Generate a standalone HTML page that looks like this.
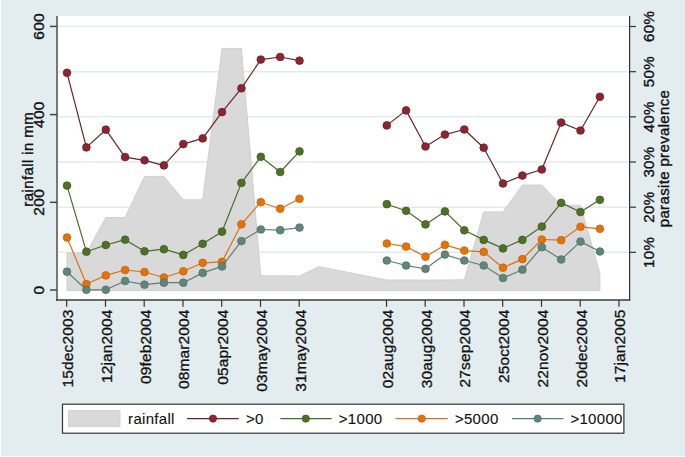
<!DOCTYPE html>
<html><head><meta charset="utf-8"><style>
html,body{margin:0;padding:0;background:#e3ecee;}
svg{display:block;}
text{font-family:"Liberation Sans",sans-serif;}
</style></head><body>
<svg width="685" height="457" viewBox="0 0 685 457">
<rect x="0" y="0" width="685" height="457" fill="#e3ecee"/>
<rect x="0" y="0" width="1" height="457" fill="#f6fbfb"/>
<rect x="0" y="456" width="685" height="1" fill="#f4f9f9"/>
<rect x="57" y="16" width="572" height="284" fill="#fff"/>
<line x1="58" y1="26.5" x2="628.5" y2="26.5" stroke="#e3ebed" stroke-width="1.5"/>
<line x1="58" y1="71.67" x2="628.5" y2="71.67" stroke="#e3ebed" stroke-width="1.5"/>
<line x1="58" y1="116.84" x2="628.5" y2="116.84" stroke="#e3ebed" stroke-width="1.5"/>
<line x1="58" y1="162.01" x2="628.5" y2="162.01" stroke="#e3ebed" stroke-width="1.5"/>
<line x1="58" y1="207.18" x2="628.5" y2="207.18" stroke="#e3ebed" stroke-width="1.5"/>
<line x1="58" y1="252.35000000000002" x2="628.5" y2="252.35000000000002" stroke="#e3ebed" stroke-width="1.5"/>
<polygon points="67.0,290.5 67.0,253.0 86.4,253.0 105.8,217.5 125.1,217.5 144.5,176.4 163.9,176.4 183.3,199.8 202.7,199.8 222.0,48.4 241.4,48.4 260.8,275.8 280.2,275.8 299.5,276.0 318.9,266.6 386.8,280.0 406.1,280.0 425.5,280.0 444.9,280.0 464.3,279.7 483.7,211.9 503.0,211.9 522.4,185.0 541.8,185.0 561.2,205.2 580.5,205.2 599.9,273.2 599.9,290.5" fill="#d9d9d9" stroke="#cdcdcd" stroke-width="0.9" stroke-linejoin="round"/>
<polyline points="67.0,72.8 86.4,147.4 105.8,129.7 125.1,157.1 144.5,160.3 163.9,165.4 183.3,144.1 202.7,138.4 222.0,112.1 241.4,88.3 260.8,59.6 280.2,57.0 299.5,60.7" fill="none" stroke="#6c232c" stroke-width="1.2" stroke-linejoin="round"/><circle cx="67.0" cy="72.8" r="3.85" fill="#8a2531" stroke="#6e1f28" stroke-width="0.8"/><circle cx="86.4" cy="147.4" r="3.85" fill="#8a2531" stroke="#6e1f28" stroke-width="0.8"/><circle cx="105.8" cy="129.7" r="3.85" fill="#8a2531" stroke="#6e1f28" stroke-width="0.8"/><circle cx="125.1" cy="157.1" r="3.85" fill="#8a2531" stroke="#6e1f28" stroke-width="0.8"/><circle cx="144.5" cy="160.3" r="3.85" fill="#8a2531" stroke="#6e1f28" stroke-width="0.8"/><circle cx="163.9" cy="165.4" r="3.85" fill="#8a2531" stroke="#6e1f28" stroke-width="0.8"/><circle cx="183.3" cy="144.1" r="3.85" fill="#8a2531" stroke="#6e1f28" stroke-width="0.8"/><circle cx="202.7" cy="138.4" r="3.85" fill="#8a2531" stroke="#6e1f28" stroke-width="0.8"/><circle cx="222.0" cy="112.1" r="3.85" fill="#8a2531" stroke="#6e1f28" stroke-width="0.8"/><circle cx="241.4" cy="88.3" r="3.85" fill="#8a2531" stroke="#6e1f28" stroke-width="0.8"/><circle cx="260.8" cy="59.6" r="3.85" fill="#8a2531" stroke="#6e1f28" stroke-width="0.8"/><circle cx="280.2" cy="57.0" r="3.85" fill="#8a2531" stroke="#6e1f28" stroke-width="0.8"/><circle cx="299.5" cy="60.7" r="3.85" fill="#8a2531" stroke="#6e1f28" stroke-width="0.8"/>
<polyline points="386.8,125.4 406.1,110.4 425.5,146.5 444.9,134.6 464.3,129.5 483.7,147.7 503.0,183.5 522.4,175.6 541.8,169.5 561.2,122.6 580.5,130.5 599.9,96.8" fill="none" stroke="#6c232c" stroke-width="1.2" stroke-linejoin="round"/><circle cx="386.8" cy="125.4" r="3.85" fill="#8a2531" stroke="#6e1f28" stroke-width="0.8"/><circle cx="406.1" cy="110.4" r="3.85" fill="#8a2531" stroke="#6e1f28" stroke-width="0.8"/><circle cx="425.5" cy="146.5" r="3.85" fill="#8a2531" stroke="#6e1f28" stroke-width="0.8"/><circle cx="444.9" cy="134.6" r="3.85" fill="#8a2531" stroke="#6e1f28" stroke-width="0.8"/><circle cx="464.3" cy="129.5" r="3.85" fill="#8a2531" stroke="#6e1f28" stroke-width="0.8"/><circle cx="483.7" cy="147.7" r="3.85" fill="#8a2531" stroke="#6e1f28" stroke-width="0.8"/><circle cx="503.0" cy="183.5" r="3.85" fill="#8a2531" stroke="#6e1f28" stroke-width="0.8"/><circle cx="522.4" cy="175.6" r="3.85" fill="#8a2531" stroke="#6e1f28" stroke-width="0.8"/><circle cx="541.8" cy="169.5" r="3.85" fill="#8a2531" stroke="#6e1f28" stroke-width="0.8"/><circle cx="561.2" cy="122.6" r="3.85" fill="#8a2531" stroke="#6e1f28" stroke-width="0.8"/><circle cx="580.5" cy="130.5" r="3.85" fill="#8a2531" stroke="#6e1f28" stroke-width="0.8"/><circle cx="599.9" cy="96.8" r="3.85" fill="#8a2531" stroke="#6e1f28" stroke-width="0.8"/>
<polyline points="67.0,185.6 86.4,251.7 105.8,245.0 125.1,239.7 144.5,251.3 163.9,249.2 183.3,254.9 202.7,243.8 222.0,231.7 241.4,182.9 260.8,156.8 280.2,172.0 299.5,151.4" fill="none" stroke="#4a6a2a" stroke-width="1.2" stroke-linejoin="round"/><circle cx="67.0" cy="185.6" r="3.85" fill="#4e7027" stroke="#3f5d1e" stroke-width="0.8"/><circle cx="86.4" cy="251.7" r="3.85" fill="#4e7027" stroke="#3f5d1e" stroke-width="0.8"/><circle cx="105.8" cy="245.0" r="3.85" fill="#4e7027" stroke="#3f5d1e" stroke-width="0.8"/><circle cx="125.1" cy="239.7" r="3.85" fill="#4e7027" stroke="#3f5d1e" stroke-width="0.8"/><circle cx="144.5" cy="251.3" r="3.85" fill="#4e7027" stroke="#3f5d1e" stroke-width="0.8"/><circle cx="163.9" cy="249.2" r="3.85" fill="#4e7027" stroke="#3f5d1e" stroke-width="0.8"/><circle cx="183.3" cy="254.9" r="3.85" fill="#4e7027" stroke="#3f5d1e" stroke-width="0.8"/><circle cx="202.7" cy="243.8" r="3.85" fill="#4e7027" stroke="#3f5d1e" stroke-width="0.8"/><circle cx="222.0" cy="231.7" r="3.85" fill="#4e7027" stroke="#3f5d1e" stroke-width="0.8"/><circle cx="241.4" cy="182.9" r="3.85" fill="#4e7027" stroke="#3f5d1e" stroke-width="0.8"/><circle cx="260.8" cy="156.8" r="3.85" fill="#4e7027" stroke="#3f5d1e" stroke-width="0.8"/><circle cx="280.2" cy="172.0" r="3.85" fill="#4e7027" stroke="#3f5d1e" stroke-width="0.8"/><circle cx="299.5" cy="151.4" r="3.85" fill="#4e7027" stroke="#3f5d1e" stroke-width="0.8"/>
<polyline points="386.8,204.2 406.1,210.8 425.5,224.4 444.9,211.4 464.3,230.3 483.7,239.9 503.0,248.4 522.4,239.9 541.8,226.6 561.2,202.9 580.5,212.0 599.9,199.8" fill="none" stroke="#4a6a2a" stroke-width="1.2" stroke-linejoin="round"/><circle cx="386.8" cy="204.2" r="3.85" fill="#4e7027" stroke="#3f5d1e" stroke-width="0.8"/><circle cx="406.1" cy="210.8" r="3.85" fill="#4e7027" stroke="#3f5d1e" stroke-width="0.8"/><circle cx="425.5" cy="224.4" r="3.85" fill="#4e7027" stroke="#3f5d1e" stroke-width="0.8"/><circle cx="444.9" cy="211.4" r="3.85" fill="#4e7027" stroke="#3f5d1e" stroke-width="0.8"/><circle cx="464.3" cy="230.3" r="3.85" fill="#4e7027" stroke="#3f5d1e" stroke-width="0.8"/><circle cx="483.7" cy="239.9" r="3.85" fill="#4e7027" stroke="#3f5d1e" stroke-width="0.8"/><circle cx="503.0" cy="248.4" r="3.85" fill="#4e7027" stroke="#3f5d1e" stroke-width="0.8"/><circle cx="522.4" cy="239.9" r="3.85" fill="#4e7027" stroke="#3f5d1e" stroke-width="0.8"/><circle cx="541.8" cy="226.6" r="3.85" fill="#4e7027" stroke="#3f5d1e" stroke-width="0.8"/><circle cx="561.2" cy="202.9" r="3.85" fill="#4e7027" stroke="#3f5d1e" stroke-width="0.8"/><circle cx="580.5" cy="212.0" r="3.85" fill="#4e7027" stroke="#3f5d1e" stroke-width="0.8"/><circle cx="599.9" cy="199.8" r="3.85" fill="#4e7027" stroke="#3f5d1e" stroke-width="0.8"/>
<polyline points="67.0,237.5 86.4,284.0 105.8,275.4 125.1,270.0 144.5,272.0 163.9,277.5 183.3,271.3 202.7,262.8 222.0,261.8 241.4,224.3 260.8,202.2 280.2,208.7 299.5,198.8" fill="none" stroke="#d2741c" stroke-width="1.2" stroke-linejoin="round"/><circle cx="67.0" cy="237.5" r="3.85" fill="#e2730a" stroke="#c66300" stroke-width="0.8"/><circle cx="86.4" cy="284.0" r="3.85" fill="#e2730a" stroke="#c66300" stroke-width="0.8"/><circle cx="105.8" cy="275.4" r="3.85" fill="#e2730a" stroke="#c66300" stroke-width="0.8"/><circle cx="125.1" cy="270.0" r="3.85" fill="#e2730a" stroke="#c66300" stroke-width="0.8"/><circle cx="144.5" cy="272.0" r="3.85" fill="#e2730a" stroke="#c66300" stroke-width="0.8"/><circle cx="163.9" cy="277.5" r="3.85" fill="#e2730a" stroke="#c66300" stroke-width="0.8"/><circle cx="183.3" cy="271.3" r="3.85" fill="#e2730a" stroke="#c66300" stroke-width="0.8"/><circle cx="202.7" cy="262.8" r="3.85" fill="#e2730a" stroke="#c66300" stroke-width="0.8"/><circle cx="222.0" cy="261.8" r="3.85" fill="#e2730a" stroke="#c66300" stroke-width="0.8"/><circle cx="241.4" cy="224.3" r="3.85" fill="#e2730a" stroke="#c66300" stroke-width="0.8"/><circle cx="260.8" cy="202.2" r="3.85" fill="#e2730a" stroke="#c66300" stroke-width="0.8"/><circle cx="280.2" cy="208.7" r="3.85" fill="#e2730a" stroke="#c66300" stroke-width="0.8"/><circle cx="299.5" cy="198.8" r="3.85" fill="#e2730a" stroke="#c66300" stroke-width="0.8"/>
<polyline points="386.8,243.5 406.1,246.6 425.5,256.7 444.9,244.9 464.3,250.6 483.7,251.9 503.0,267.7 522.4,259.1 541.8,239.5 561.2,240.2 580.5,226.8 599.9,228.8" fill="none" stroke="#d2741c" stroke-width="1.2" stroke-linejoin="round"/><circle cx="386.8" cy="243.5" r="3.85" fill="#e2730a" stroke="#c66300" stroke-width="0.8"/><circle cx="406.1" cy="246.6" r="3.85" fill="#e2730a" stroke="#c66300" stroke-width="0.8"/><circle cx="425.5" cy="256.7" r="3.85" fill="#e2730a" stroke="#c66300" stroke-width="0.8"/><circle cx="444.9" cy="244.9" r="3.85" fill="#e2730a" stroke="#c66300" stroke-width="0.8"/><circle cx="464.3" cy="250.6" r="3.85" fill="#e2730a" stroke="#c66300" stroke-width="0.8"/><circle cx="483.7" cy="251.9" r="3.85" fill="#e2730a" stroke="#c66300" stroke-width="0.8"/><circle cx="503.0" cy="267.7" r="3.85" fill="#e2730a" stroke="#c66300" stroke-width="0.8"/><circle cx="522.4" cy="259.1" r="3.85" fill="#e2730a" stroke="#c66300" stroke-width="0.8"/><circle cx="541.8" cy="239.5" r="3.85" fill="#e2730a" stroke="#c66300" stroke-width="0.8"/><circle cx="561.2" cy="240.2" r="3.85" fill="#e2730a" stroke="#c66300" stroke-width="0.8"/><circle cx="580.5" cy="226.8" r="3.85" fill="#e2730a" stroke="#c66300" stroke-width="0.8"/><circle cx="599.9" cy="228.8" r="3.85" fill="#e2730a" stroke="#c66300" stroke-width="0.8"/>
<polyline points="67.0,271.7 86.4,289.8 105.8,289.8 125.1,281.0 144.5,284.7 163.9,282.7 183.3,282.7 202.7,272.9 222.0,266.4 241.4,241.1 260.8,229.5 280.2,230.2 299.5,227.6" fill="none" stroke="#5f7f75" stroke-width="1.2" stroke-linejoin="round"/><circle cx="67.0" cy="271.7" r="3.85" fill="#628579" stroke="#4f7267" stroke-width="0.8"/><circle cx="86.4" cy="289.8" r="3.85" fill="#628579" stroke="#4f7267" stroke-width="0.8"/><circle cx="105.8" cy="289.8" r="3.85" fill="#628579" stroke="#4f7267" stroke-width="0.8"/><circle cx="125.1" cy="281.0" r="3.85" fill="#628579" stroke="#4f7267" stroke-width="0.8"/><circle cx="144.5" cy="284.7" r="3.85" fill="#628579" stroke="#4f7267" stroke-width="0.8"/><circle cx="163.9" cy="282.7" r="3.85" fill="#628579" stroke="#4f7267" stroke-width="0.8"/><circle cx="183.3" cy="282.7" r="3.85" fill="#628579" stroke="#4f7267" stroke-width="0.8"/><circle cx="202.7" cy="272.9" r="3.85" fill="#628579" stroke="#4f7267" stroke-width="0.8"/><circle cx="222.0" cy="266.4" r="3.85" fill="#628579" stroke="#4f7267" stroke-width="0.8"/><circle cx="241.4" cy="241.1" r="3.85" fill="#628579" stroke="#4f7267" stroke-width="0.8"/><circle cx="260.8" cy="229.5" r="3.85" fill="#628579" stroke="#4f7267" stroke-width="0.8"/><circle cx="280.2" cy="230.2" r="3.85" fill="#628579" stroke="#4f7267" stroke-width="0.8"/><circle cx="299.5" cy="227.6" r="3.85" fill="#628579" stroke="#4f7267" stroke-width="0.8"/>
<polyline points="386.8,260.5 406.1,265.5 425.5,268.8 444.9,254.6 464.3,260.5 483.7,265.5 503.0,278.0 522.4,269.7 541.8,247.2 561.2,259.5 580.5,241.6 599.9,251.5" fill="none" stroke="#5f7f75" stroke-width="1.2" stroke-linejoin="round"/><circle cx="386.8" cy="260.5" r="3.85" fill="#628579" stroke="#4f7267" stroke-width="0.8"/><circle cx="406.1" cy="265.5" r="3.85" fill="#628579" stroke="#4f7267" stroke-width="0.8"/><circle cx="425.5" cy="268.8" r="3.85" fill="#628579" stroke="#4f7267" stroke-width="0.8"/><circle cx="444.9" cy="254.6" r="3.85" fill="#628579" stroke="#4f7267" stroke-width="0.8"/><circle cx="464.3" cy="260.5" r="3.85" fill="#628579" stroke="#4f7267" stroke-width="0.8"/><circle cx="483.7" cy="265.5" r="3.85" fill="#628579" stroke="#4f7267" stroke-width="0.8"/><circle cx="503.0" cy="278.0" r="3.85" fill="#628579" stroke="#4f7267" stroke-width="0.8"/><circle cx="522.4" cy="269.7" r="3.85" fill="#628579" stroke="#4f7267" stroke-width="0.8"/><circle cx="541.8" cy="247.2" r="3.85" fill="#628579" stroke="#4f7267" stroke-width="0.8"/><circle cx="561.2" cy="259.5" r="3.85" fill="#628579" stroke="#4f7267" stroke-width="0.8"/><circle cx="580.5" cy="241.6" r="3.85" fill="#628579" stroke="#4f7267" stroke-width="0.8"/><circle cx="599.9" cy="251.5" r="3.85" fill="#628579" stroke="#4f7267" stroke-width="0.8"/>
<line x1="57" y1="16" x2="57" y2="300.8" stroke="#6a6a6a" stroke-width="1.8"/>
<line x1="56" y1="300" x2="630.2" y2="300" stroke="#3c3c3c" stroke-width="1.4"/>
<line x1="629.6" y1="16" x2="629.6" y2="300.7" stroke="#333" stroke-width="1.2"/>
<line x1="50" y1="290.0" x2="57" y2="290.0" stroke="#444" stroke-width="1.5"/>
<text transform="translate(44.2,290.0) rotate(-90)" text-anchor="middle" font-family="Liberation Sans, sans-serif" font-size="15.5" letter-spacing="0.3" fill="#111" stroke="#111" stroke-width="0.35">0</text>
<line x1="50" y1="202.3" x2="57" y2="202.3" stroke="#444" stroke-width="1.5"/>
<text transform="translate(44.2,202.3) rotate(-90)" text-anchor="middle" font-family="Liberation Sans, sans-serif" font-size="15.5" letter-spacing="0.3" fill="#111" stroke="#111" stroke-width="0.35">200</text>
<line x1="50" y1="114.6" x2="57" y2="114.6" stroke="#444" stroke-width="1.5"/>
<text transform="translate(44.2,114.6) rotate(-90)" text-anchor="middle" font-family="Liberation Sans, sans-serif" font-size="15.5" letter-spacing="0.3" fill="#111" stroke="#111" stroke-width="0.35">400</text>
<line x1="50" y1="26.4" x2="57" y2="26.4" stroke="#444" stroke-width="1.5"/>
<text transform="translate(44.2,26.4) rotate(-90)" text-anchor="middle" font-family="Liberation Sans, sans-serif" font-size="15.5" letter-spacing="0.3" fill="#111" stroke="#111" stroke-width="0.35">600</text>
<line x1="629.6" y1="252.35" x2="636" y2="252.35" stroke="#333" stroke-width="1.2"/>
<text transform="translate(653.8,252.35000000000002) rotate(-90)" text-anchor="middle" font-family="Liberation Sans, sans-serif" font-size="15" letter-spacing="0.4" fill="#111" stroke="#111" stroke-width="0.35">10%</text>
<line x1="629.6" y1="207.18" x2="636" y2="207.18" stroke="#333" stroke-width="1.2"/>
<text transform="translate(653.8,207.18) rotate(-90)" text-anchor="middle" font-family="Liberation Sans, sans-serif" font-size="15" letter-spacing="0.4" fill="#111" stroke="#111" stroke-width="0.35">20%</text>
<line x1="629.6" y1="162.01" x2="636" y2="162.01" stroke="#333" stroke-width="1.2"/>
<text transform="translate(653.8,162.01) rotate(-90)" text-anchor="middle" font-family="Liberation Sans, sans-serif" font-size="15" letter-spacing="0.4" fill="#111" stroke="#111" stroke-width="0.35">30%</text>
<line x1="629.6" y1="116.84" x2="636" y2="116.84" stroke="#333" stroke-width="1.2"/>
<text transform="translate(653.8,116.84) rotate(-90)" text-anchor="middle" font-family="Liberation Sans, sans-serif" font-size="15" letter-spacing="0.4" fill="#111" stroke="#111" stroke-width="0.35">40%</text>
<line x1="629.6" y1="71.67" x2="636" y2="71.67" stroke="#333" stroke-width="1.2"/>
<text transform="translate(653.8,71.67) rotate(-90)" text-anchor="middle" font-family="Liberation Sans, sans-serif" font-size="15" letter-spacing="0.4" fill="#111" stroke="#111" stroke-width="0.35">50%</text>
<line x1="629.6" y1="26.50" x2="636" y2="26.50" stroke="#333" stroke-width="1.2"/>
<text transform="translate(653.8,26.5) rotate(-90)" text-anchor="middle" font-family="Liberation Sans, sans-serif" font-size="15" letter-spacing="0.4" fill="#111" stroke="#111" stroke-width="0.35">60%</text>
<line x1="66.7" y1="300" x2="66.7" y2="306.8" stroke="#333" stroke-width="1.2"/>
<text transform="translate(73.0,309.6) rotate(-90)" text-anchor="end" font-family="Liberation Sans, sans-serif" font-size="15.5" letter-spacing="0.12" fill="#111" stroke="#111" stroke-width="0.3">15dec2003</text>
<line x1="105.5" y1="300" x2="105.5" y2="306.8" stroke="#333" stroke-width="1.2"/>
<text transform="translate(111.8,309.6) rotate(-90)" text-anchor="end" font-family="Liberation Sans, sans-serif" font-size="15.5" letter-spacing="0.12" fill="#111" stroke="#111" stroke-width="0.3">12jan2004</text>
<line x1="144.2" y1="300" x2="144.2" y2="306.8" stroke="#333" stroke-width="1.2"/>
<text transform="translate(150.5,309.6) rotate(-90)" text-anchor="end" font-family="Liberation Sans, sans-serif" font-size="15.5" letter-spacing="0.12" fill="#111" stroke="#111" stroke-width="0.3">09feb2004</text>
<line x1="183.0" y1="300" x2="183.0" y2="306.8" stroke="#333" stroke-width="1.2"/>
<text transform="translate(189.3,309.6) rotate(-90)" text-anchor="end" font-family="Liberation Sans, sans-serif" font-size="15.5" letter-spacing="0.12" fill="#111" stroke="#111" stroke-width="0.3">08mar2004</text>
<line x1="221.7" y1="300" x2="221.7" y2="306.8" stroke="#333" stroke-width="1.2"/>
<text transform="translate(228.0,309.6) rotate(-90)" text-anchor="end" font-family="Liberation Sans, sans-serif" font-size="15.5" letter-spacing="0.12" fill="#111" stroke="#111" stroke-width="0.3">05apr2004</text>
<line x1="260.5" y1="300" x2="260.5" y2="306.8" stroke="#333" stroke-width="1.2"/>
<text transform="translate(266.8,309.6) rotate(-90)" text-anchor="end" font-family="Liberation Sans, sans-serif" font-size="15.5" letter-spacing="0.12" fill="#111" stroke="#111" stroke-width="0.3">03may2004</text>
<line x1="299.2" y1="300" x2="299.2" y2="306.8" stroke="#333" stroke-width="1.2"/>
<text transform="translate(305.5,309.6) rotate(-90)" text-anchor="end" font-family="Liberation Sans, sans-serif" font-size="15.5" letter-spacing="0.12" fill="#111" stroke="#111" stroke-width="0.3">31may2004</text>
<line x1="386.5" y1="300" x2="386.5" y2="306.8" stroke="#333" stroke-width="1.2"/>
<text transform="translate(392.8,309.6) rotate(-90)" text-anchor="end" font-family="Liberation Sans, sans-serif" font-size="15.5" letter-spacing="0.12" fill="#111" stroke="#111" stroke-width="0.3">02aug2004</text>
<line x1="425.2" y1="300" x2="425.2" y2="306.8" stroke="#333" stroke-width="1.2"/>
<text transform="translate(431.5,309.6) rotate(-90)" text-anchor="end" font-family="Liberation Sans, sans-serif" font-size="15.5" letter-spacing="0.12" fill="#111" stroke="#111" stroke-width="0.3">30aug2004</text>
<line x1="464.0" y1="300" x2="464.0" y2="306.8" stroke="#333" stroke-width="1.2"/>
<text transform="translate(470.3,309.6) rotate(-90)" text-anchor="end" font-family="Liberation Sans, sans-serif" font-size="15.5" letter-spacing="0.12" fill="#111" stroke="#111" stroke-width="0.3">27sep2004</text>
<line x1="502.7" y1="300" x2="502.7" y2="306.8" stroke="#333" stroke-width="1.2"/>
<text transform="translate(509.0,309.6) rotate(-90)" text-anchor="end" font-family="Liberation Sans, sans-serif" font-size="15.5" letter-spacing="0.12" fill="#111" stroke="#111" stroke-width="0.3">25oct2004</text>
<line x1="541.5" y1="300" x2="541.5" y2="306.8" stroke="#333" stroke-width="1.2"/>
<text transform="translate(547.8,309.6) rotate(-90)" text-anchor="end" font-family="Liberation Sans, sans-serif" font-size="15.5" letter-spacing="0.12" fill="#111" stroke="#111" stroke-width="0.3">22nov2004</text>
<line x1="580.2" y1="300" x2="580.2" y2="306.8" stroke="#333" stroke-width="1.2"/>
<text transform="translate(586.5,309.6) rotate(-90)" text-anchor="end" font-family="Liberation Sans, sans-serif" font-size="15.5" letter-spacing="0.12" fill="#111" stroke="#111" stroke-width="0.3">20dec2004</text>
<line x1="619.0" y1="300" x2="619.0" y2="306.8" stroke="#333" stroke-width="1.2"/>
<text transform="translate(625.3,309.6) rotate(-90)" text-anchor="end" font-family="Liberation Sans, sans-serif" font-size="15.5" letter-spacing="0.12" fill="#111" stroke="#111" stroke-width="0.3">17jan2005</text>
<text transform="translate(32.8,159.3) rotate(-90)" text-anchor="middle" font-family="Liberation Sans, sans-serif" font-size="15" letter-spacing="0.4" fill="#111" stroke="#111" stroke-width="0.35">rainfall in mm</text>
<text transform="translate(669.2,158.5) rotate(-90)" text-anchor="middle" font-family="Liberation Sans, sans-serif" font-size="15" letter-spacing="0.35" fill="#111" stroke="#111" stroke-width="0.35">parasite prevalence</text>
<rect x="62.5" y="404.2" width="561.4" height="29" fill="#fff" stroke="#333" stroke-width="1.2"/>
<rect x="68.4" y="410.3" width="51.6" height="16.4" fill="#d9d9d9" stroke="#cdcdcd" stroke-width="0.8"/>
<line x1="187" y1="418.6" x2="238.8" y2="418.6" stroke="#6c232c" stroke-width="1.3"/><circle cx="213" cy="418.6" r="3.6" fill="#8a2531" stroke="#6e1f28" stroke-width="0.8"/>
<line x1="280.4" y1="418.6" x2="331.6" y2="418.6" stroke="#4a6a2a" stroke-width="1.3"/><circle cx="305.8" cy="418.6" r="3.6" fill="#4e7027" stroke="#3f5d1e" stroke-width="0.8"/>
<line x1="395.5" y1="418.6" x2="447.7" y2="418.6" stroke="#d2741c" stroke-width="1.3"/><circle cx="421.8" cy="418.6" r="3.6" fill="#e2730a" stroke="#c66300" stroke-width="0.8"/>
<line x1="512" y1="418.6" x2="563.4" y2="418.6" stroke="#5f7f75" stroke-width="1.3"/><circle cx="537.7" cy="418.6" r="3.6" fill="#628579" stroke="#4f7267" stroke-width="0.8"/>
<text x="128.1" y="423.9" font-family="Liberation Sans, sans-serif" font-size="15" letter-spacing="0.3" fill="#111" stroke="#111" stroke-width="0.1">rainfall</text>
<text x="246.0" y="423.9" font-family="Liberation Sans, sans-serif" font-size="15" letter-spacing="0.3" fill="#111" stroke="#111" stroke-width="0.1">&gt;0</text>
<text x="338.8" y="423.9" font-family="Liberation Sans, sans-serif" font-size="15" letter-spacing="0.3" fill="#111" stroke="#111" stroke-width="0.1">&gt;1000</text>
<text x="454.9" y="423.9" font-family="Liberation Sans, sans-serif" font-size="15" letter-spacing="0.3" fill="#111" stroke="#111" stroke-width="0.1">&gt;5000</text>
<text x="570.4" y="423.9" font-family="Liberation Sans, sans-serif" font-size="15" letter-spacing="0.3" fill="#111" stroke="#111" stroke-width="0.1">&gt;10000</text>
</svg>
</body></html>
